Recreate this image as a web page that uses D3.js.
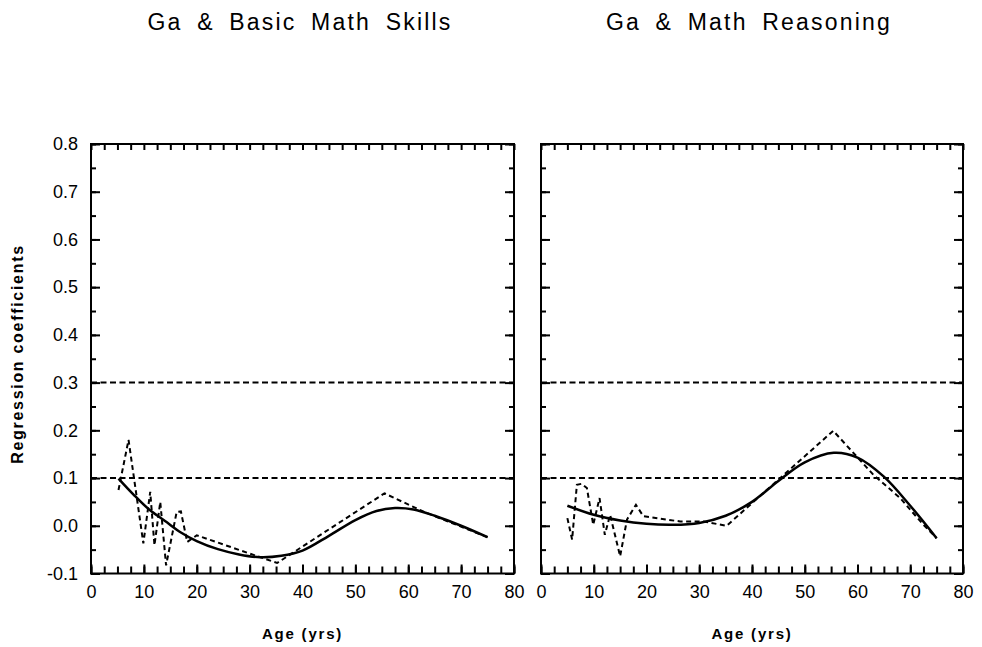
<!DOCTYPE html>
<html>
<head>
<meta charset="utf-8">
<script src="https://cdn.jsdelivr.net/npm/d3@7/dist/d3.min.js"></script>
<style>
  html, body { margin: 0; padding: 0; background: #fff; }
  svg { display: block; }
  text { font-family: "Liberation Sans", Arial, sans-serif; fill: #000; }
</style>
</head>
<body>
<svg id="chart" width="982" height="647"></svg>
<script>
// ---------------- data ----------------
const panelTitles = ["Ga & Basic Math Skills", "Ga & Math Reasoning"];
const xTickValues = [0, 10, 20, 30, 40, 50, 60, 70, 80];
const yTickValues = [-0.1, 0.0, 0.1, 0.2, 0.3, 0.4, 0.5, 0.6, 0.7, 0.8];
const yTickLabels = ["-0.1", "0.0", "0.1", "0.2", "0.3", "0.4", "0.5", "0.6", "0.7", "0.8"];
const refLines = [0.1, 0.3];

// Left panel: raw coefficients (dashed)
const basicRawAge = [5.2, 7.1, 9.9, 11.2, 12.0, 13.1, 14.2, 16.2, 17.0, 18.2, 20.0, 35.2, 55.5, 63.0, 75.0];
const basicRawVal = [0.075, 0.18, -0.037, 0.071, -0.041, 0.05, -0.083, 0.029, 0.030, -0.034, -0.020, -0.078, 0.068, 0.029, -0.024];
// Left panel: smoothed coefficients (solid)
const basicFitAge = [5.2, 8.0, 11.0, 14.0, 17.0, 20.0, 24.0, 28.0, 32.0, 36.0, 40.0, 45.0, 50.0, 54.0, 57.5, 61.0, 65.0, 70.0, 75.0];
const basicFitVal = [0.099, 0.066, 0.034, 0.010, -0.014, -0.032, -0.049, -0.060, -0.066, -0.063, -0.052, -0.021, 0.012, 0.031, 0.037, 0.034, 0.021, 0.000, -0.024];

// Right panel: raw coefficients (dashed)
const reasonRawAge = [5.0, 5.9, 6.8, 7.7, 8.7, 9.9, 11.1, 12.1, 13.1, 15.0, 16.3, 18.0, 19.4, 26.4, 30.8, 35.2, 55.4, 63.0, 68.1, 72.5, 75.0];
const reasonRawVal = [0.016, -0.029, 0.086, 0.088, 0.079, 0.002, 0.058, -0.019, 0.023, -0.064, 0.013, 0.044, 0.020, 0.009, 0.009, 0.000, 0.199, 0.107, 0.058, 0.002, -0.026];
// Right panel: smoothed coefficients (solid)
const reasonFitAge = [5.0, 10.0, 15.0, 20.0, 25.0, 30.0, 35.0, 40.0, 45.0, 50.0, 55.5, 60.0, 65.0, 70.0, 75.0];
const reasonFitVal = [0.042, 0.023, 0.011, 0.004, 0.002, 0.006, 0.021, 0.050, 0.094, 0.133, 0.153, 0.143, 0.103, 0.042, -0.026];

// ---------------- layout ----------------
const svg = d3.select("#chart");
const panels = [
  { left: 91, right: 514, title: panelTitles[0], titleX: 300,
    raw: basicRawAge.map((a, i) => [a, basicRawVal[i]]),
    fit: basicFitAge.map((a, i) => [a, basicFitVal[i]]), yLabels: true },
  { left: 541, right: 963, title: panelTitles[1], titleX: 749,
    raw: reasonRawAge.map((a, i) => [a, reasonRawVal[i]]),
    fit: reasonFitAge.map((a, i) => [a, reasonFitVal[i]]), yLabels: false }
];
const plotTop = 144, plotBottom = 573.5;
const y = d3.scaleLinear().domain([-0.1, 0.8]).range([plotBottom, plotTop]);

const minorX = d3.range(0, 80.01, 2.5);
const minorY = d3.range(-0.1, 0.801, 0.05).map(v => Math.round(v * 100) / 100);

panels.forEach(p => {
  const x = d3.scaleLinear().domain([0, 80]).range([p.left, p.right]);
  const g = svg.append("g");

  // title
  g.append("text")
    .attr("x", p.titleX).attr("y", 30)
    .attr("text-anchor", "middle")
    .style("font-size", "23px")
    .style("letter-spacing", "2.2px")
    .style("word-spacing", "6px")
    .text(p.title);

  // frame
  g.append("rect")
    .attr("x", p.left).attr("y", plotTop)
    .attr("width", p.right - p.left).attr("height", plotBottom - plotTop)
    .attr("fill", "none").attr("stroke", "#000").attr("stroke-width", 2);

  // axes (ticks pointing inward)
  const axes = g.append("g").attr("class", "axes");
  axes.append("g").attr("transform", `translate(0,${plotBottom})`)
    .call(d3.axisBottom(x).tickValues(minorX).tickSize(-7).tickFormat(""));
  const axB2 = axes.append("g").attr("transform", `translate(0,${plotBottom})`)
    .call(d3.axisBottom(x).tickValues(xTickValues).tickSize(-9).tickPadding(21)
      .tickFormat(d3.format("d")));
  axB2.selectAll("text").style("font-size", "18px").attr("dy", "0.2em");
  axes.append("g").attr("transform", `translate(0,${plotTop})`)
    .call(d3.axisTop(x).tickValues(minorX).tickSize(-6).tickFormat(""));
  axes.append("g").attr("transform", `translate(${p.left},0)`)
    .call(d3.axisLeft(y).tickValues(minorY).tickSize(-5).tickFormat(""));
  const axL2 = axes.append("g").attr("transform", `translate(${p.left},0)`)
    .call(d3.axisLeft(y).tickValues(yTickValues).tickSize(-9).tickPadding(13)
      .tickFormat((d, i) => p.yLabels ? yTickLabels[i] : ""));
  axL2.selectAll("text").style("font-size", "18px");
  axes.append("g").attr("transform", `translate(${p.right},0)`)
    .call(d3.axisRight(y).tickValues(minorY).tickSize(-5).tickFormat(""));
  axes.append("g").attr("transform", `translate(${p.right},0)`)
    .call(d3.axisRight(y).tickValues(yTickValues).tickSize(-9).tickFormat(""));
  axes.selectAll(".domain").remove();
  axes.selectAll(".tick line").attr("stroke", "#000").attr("stroke-width", 2);
  axes.selectAll(".tick text").attr("fill", "#000")
    .style("font-family", "'Liberation Sans', Arial, sans-serif");

  // reference lines
  g.selectAll("line.ref").data(refLines).enter().append("line")
    .attr("class", "ref")
    .attr("x1", p.left).attr("x2", p.right)
    .attr("y1", d => y(d)).attr("y2", d => y(d))
    .attr("stroke", "#000").attr("stroke-width", 2)
    .attr("stroke-dasharray", "6,3.5");

  // raw coefficients (dashed)
  g.append("path").datum(p.raw)
    .attr("fill", "none").attr("stroke", "#000").attr("stroke-width", 2)
    .attr("stroke-dasharray", "5,3.5")
    .attr("d", d3.line().x(d => x(d[0])).y(d => y(d[1])));

  // smoothed coefficients (solid)
  g.append("path").datum(p.fit)
    .attr("fill", "none").attr("stroke", "#000").attr("stroke-width", 2.5)
    .attr("d", d3.line().curve(d3.curveCatmullRom.alpha(0.5))
      .x(d => x(d[0])).y(d => y(d[1])));

  // x axis title
  g.append("text")
    .attr("x", (p.left + p.right) / 2).attr("y", 639)
    .attr("text-anchor", "middle")
    .style("font-size", "15px").style("font-weight", "bold")
    .style("letter-spacing", "1.8px")
    .text("Age (yrs)");
});

// y axis title
svg.append("text")
  .attr("transform", "translate(23,354) rotate(-90)")
  .attr("text-anchor", "middle")
  .style("font-size", "16px").style("font-weight", "bold")
  .style("letter-spacing", "1.7px")
  .text("Regression coefficients");
</script>
</body>
</html>
